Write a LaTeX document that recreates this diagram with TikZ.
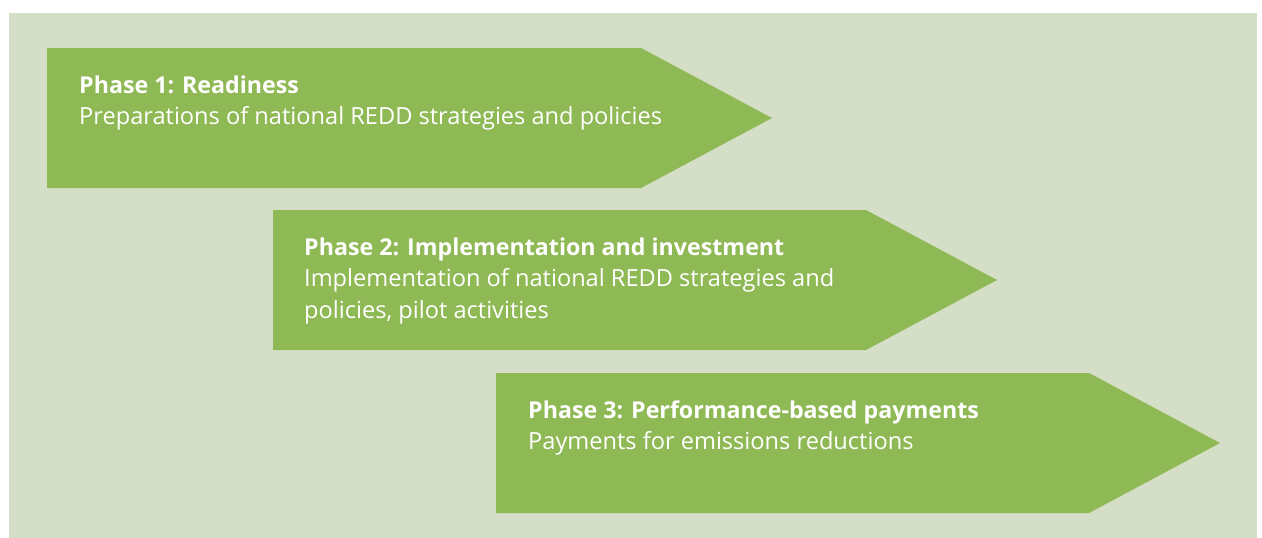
\documentclass[tikz,border=0pt]{standalone}
\usepackage{fontspec}
\setmainfont{Open Sans}
\definecolor{bgc}{RGB}{213,222,198}
\definecolor{arrowc}{RGB}{143,185,84}
\tikzset{
  phase/.style={fill=arrowc, draw=none},
  ttl/.style={anchor=base west, inner sep=0pt, text=white, font=\fontsize{23.2}{27}\selectfont\bfseries},
  txt/.style={anchor=base west, inner sep=0pt, text=white, font=\fontsize{23.6}{27}\selectfont},
}
\begin{document}
\begin{tikzpicture}[x=1pt,y=-1pt]
\useasboundingbox (0,0) rectangle (1262,538);
\fill[bgc] (9,13) rectangle (1257,538);
% arrows
\fill[phase] (47,48) -- (641,48) -- (772,118) -- (641,188) -- (47,188) -- cycle;
\fill[phase] (273,210) -- (866,210) -- (997,280) -- (866,350) -- (273,350) -- cycle;
\fill[phase] (496,373) -- (1089,373) -- (1220,443) -- (1089,513) -- (496,513) -- cycle;
% texts
\node[ttl] (t1) at (79,93) {Phase 1: Readiness};
\node[txt] (l1) at (79,124) {Preparations of national REDD strategies and policies};
\node[ttl] (t2) at (304,255) {Phase 2: Implementation and investment};
\node[txt] (l2a) at (304,286) {Implementation of national REDD strategies and};
\node[txt] (l2b) at (304,318) {policies, pilot activities};
\node[ttl] (t3) at (528,418) {Phase 3: Performance-based payments};
\node[txt] (l3) at (528,449) {Payments for emissions reductions};
\end{tikzpicture}
\end{document}
